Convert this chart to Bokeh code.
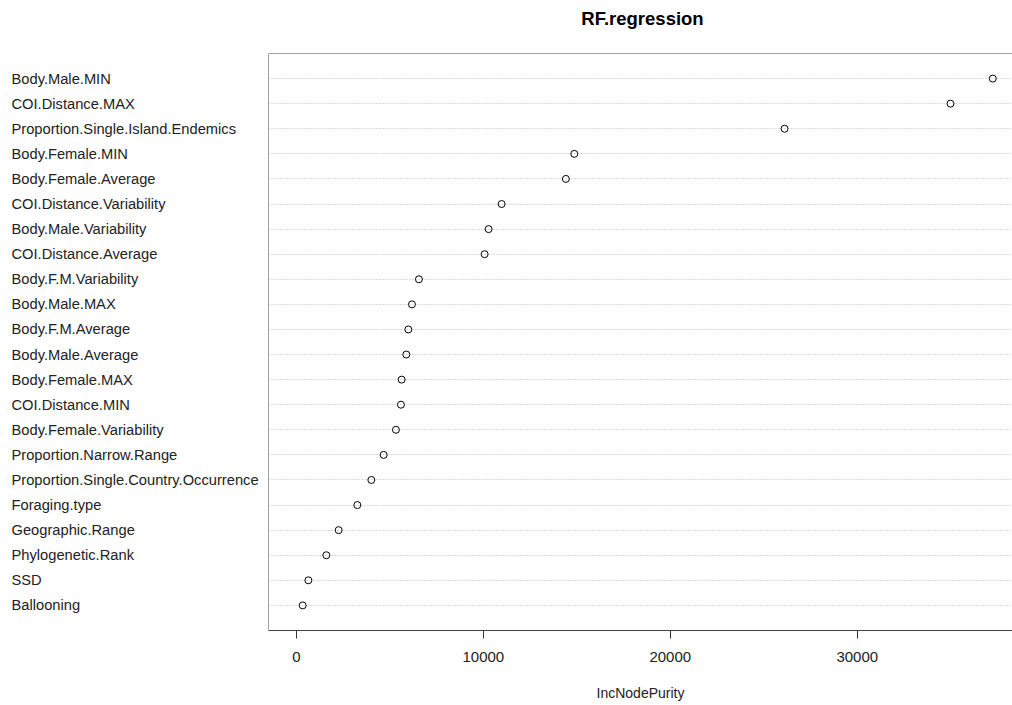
from bokeh.plotting import figure
from bokeh.layouts import row, column
from bokeh.models import ColumnDataSource, Span, FixedTicker
from bokeh.core.properties import value
from bokeh.embed import file_html
from bokeh.resources import INLINE

title_text = "RF.regression"
x_label = "IncNodePurity"
# top-to-bottom order as displayed
variables = [
    "Body.Male.MIN", "COI.Distance.MAX", "Proportion.Single.Island.Endemics",
    "Body.Female.MIN", "Body.Female.Average", "COI.Distance.Variability",
    "Body.Male.Variability", "COI.Distance.Average", "Body.F.M.Variability",
    "Body.Male.MAX", "Body.F.M.Average", "Body.Male.Average", "Body.Female.MAX",
    "COI.Distance.MIN", "Body.Female.Variability", "Proportion.Narrow.Range",
    "Proportion.Single.Country.Occurrence", "Foraging.type", "Geographic.Range",
    "Phylogenetic.Rank", "SSD", "Ballooning",
]
inc_node_purity = [
    37251, 34989, 26112, 14866, 14417, 10979, 10283, 10070, 6556, 6182, 5989,
    5882, 5631, 5594, 5326, 4668, 4011, 3262, 2262, 1604, 642, 337,
]
x_ticks = [0, 10000, 20000, 30000]

n = len(variables)
ypos = [n - i for i in range(n)]
src = ColumnDataSource(dict(x=inc_node_purity, y=ypos, name=variables))

font = "Liberation Sans"
W, TOPH, BOTTOM, HEIGHT, LEFTW = 1012, 52, 75, 705, 268
MAINH = HEIGHT - TOPH

# ---- title strip ----
tp = figure(width=W, height=TOPH, output_backend="svg", toolbar_location=None,
            x_range=(0, W), y_range=(0, TOPH), x_axis_location=None, y_axis_location=None,
            min_border=0)
tp.outline_line_color = None
tp.grid.visible = False
tp.text(x=[642], y=[TOPH - 17.5], text=[title_text], text_font=value(font),
        text_font_size="18.5px", text_font_style="bold", text_color="black",
        text_align="center", text_baseline="middle")

# ---- left panel with variable names ----
lp = figure(width=LEFTW, height=MAINH, output_backend="svg", toolbar_location=None,
            x_range=(0, LEFTW), y_range=(0, n + 1),
            x_axis_location=None, y_axis_location=None,
            min_border_left=0, min_border_right=0, min_border_top=1,
            min_border_bottom=BOTTOM)
lp.outline_line_color = None
lp.grid.visible = False
lp.text(x=11, y="y", text="name", source=src, text_font=value(font),
        text_font_size="14.7px", text_color="#222222", text_baseline="middle",
        text_align="left")

# ---- main dot chart ----
xmax = max(inc_node_purity)
xlo = -0.04 * xmax
p = figure(width=W - LEFTW, height=MAINH, output_backend="svg", toolbar_location=None,
           x_range=(xlo, 38305), y_range=(0, n + 1), y_axis_location=None,
           min_border_left=0, min_border_right=0, min_border_top=1,
           min_border_bottom=BOTTOM)
p.outline_line_color = None
p.background_fill_color = "white"
p.border_fill_color = "white"

p.xgrid.visible = False
p.ygrid.ticker = FixedTicker(ticks=ypos)
p.ygrid.grid_line_color = "#b8b8b8"
p.ygrid.grid_line_dash = "1 2"
p.ygrid.grid_line_width = 1

p.xaxis.ticker = FixedTicker(ticks=x_ticks)
p.xaxis.minor_tick_line_color = None
p.xaxis.major_tick_out = 8
p.xaxis.major_tick_in = 0
p.xaxis.major_tick_line_color = "#333333"
p.xaxis.axis_line_color = "#444444"
p.xaxis.major_label_text_font = font
p.xaxis.major_label_text_font_size = "15px"
p.xaxis.major_label_text_color = "#222222"
p.xaxis.major_label_standoff = 13
p.xaxis.axis_label = x_label
p.xaxis.axis_label_text_font = font
p.xaxis.axis_label_text_font_size = "14px"
p.xaxis.axis_label_text_font_style = "normal"
p.xaxis.axis_label_text_color = "#222222"
p.xaxis.axis_label_standoff = 20

# box: top and left edges
p.add_layout(Span(location=n + 1, dimension="width", line_color="#444444", line_width=1))
p.add_layout(Span(location=xlo, dimension="height", line_color="#444444", line_width=1))

p.scatter("x", "y", source=src, marker="circle", size=7, fill_color=None,
          line_color="black", line_width=1)

layout = column(tp, row(lp, p, spacing=0), spacing=0)
open("out.html", "w").write(file_html(layout, INLINE))
